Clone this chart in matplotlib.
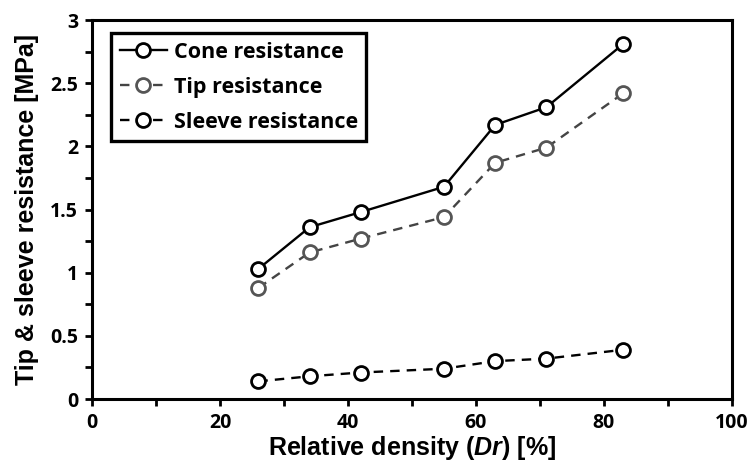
import matplotlib
matplotlib.use("Agg")
import matplotlib.pyplot as plt
from matplotlib.ticker import MultipleLocator

plt.rcParams['mathtext.fontset'] = 'custom'
plt.rcParams['mathtext.it'] = 'Liberation Sans:italic:bold'
plt.rcParams['mathtext.rm'] = 'Liberation Sans:bold'

dr = [26, 34, 42, 55, 63, 71, 83]
cone = [1.03, 1.36, 1.48, 1.68, 2.17, 2.31, 2.81]
tip = [0.88, 1.16, 1.27, 1.44, 1.87, 1.99, 2.42]
sleeve = [0.14, 0.18, 0.21, 0.24, 0.30, 0.32, 0.39]

x_ticks = [0, 20, 40, 60, 80, 100]
y_ticks = [0, 0.5, 1, 1.5, 2, 2.5, 3]
y_tick_labels = ['0', '0.5', '1', '1.5', '2', '2.5', '3']

fig = plt.figure(figsize=(7.52, 4.66), dpi=100)
ax = fig.add_axes([0.1223, 0.1437, 0.8511, 0.8133])

mk = dict(marker='o', markersize=10, markerfacecolor='white', markeredgewidth=2.0)
ax.plot(dr, cone, '-', color='black', lw=1.7, markeredgecolor='black', label='Cone resistance', **mk)
ax.plot(dr, tip, '--', color='#444444', lw=1.7, markeredgecolor='#555555', label='Tip resistance', dashes=(4, 3), **mk)
ax.plot(dr, sleeve, '--', color='black', lw=1.7, markeredgecolor='black', label='Sleeve resistance', dashes=(4, 3), **mk)

ax.set_xlim(0, 100)
ax.set_ylim(0, 3)
ax.set_xticks(x_ticks)
ax.set_xticklabels([str(v) for v in x_ticks])
ax.xaxis.set_minor_locator(MultipleLocator(10))
ax.set_yticks(y_ticks)
ax.set_yticklabels(y_tick_labels)
ax.yaxis.set_minor_locator(MultipleLocator(0.25))

for s in ax.spines.values():
    s.set_linewidth(2.2)
ax.tick_params(which='both', direction='out', width=2, length=5, labelsize=14, pad=5)
for lab in ax.get_xticklabels() + ax.get_yticklabels():
    lab.set_fontfamily('Open Sans')
    lab.set_fontweight('bold')

ax.set_xlabel(r'Relative density ($\it{Dr}$) [%]', fontsize=18, fontfamily='Liberation Sans', fontweight='bold', labelpad=1)
ax.set_ylabel('Tip & sleeve resistance [MPa]', fontsize=18, fontfamily='Liberation Sans', fontweight='bold', labelpad=8)

leg = ax.legend(loc='upper left', bbox_to_anchor=(0.03, 0.966), borderaxespad=0,
                prop={'family': 'Open Sans', 'weight': 'bold', 'size': 15.5},
                frameon=True, fancybox=False, edgecolor='black', handlelength=2.2, handletextpad=0.3,
                borderpad=0.4, labelspacing=0.65, framealpha=1)
leg.get_frame().set_linewidth(2.4)

fig.savefig('out.png', dpi=100)
